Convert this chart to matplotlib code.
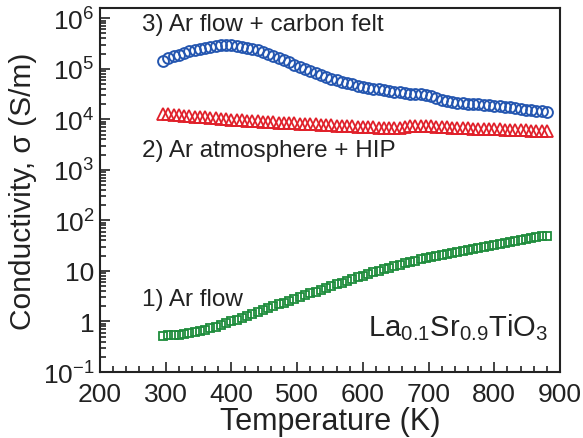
import matplotlib
matplotlib.use("Agg")
import matplotlib.pyplot as plt
from matplotlib.ticker import FixedLocator, LogLocator, NullFormatter, FixedFormatter

plt.rcParams['font.family'] = ['Liberation Sans', 'DejaVu Sans']
plt.rcParams['mathtext.fontset'] = 'custom'
plt.rcParams['mathtext.rm'] = 'Liberation Sans'

# Measurement temperatures (K), one every 8 K
temperature = list(range(296, 881, 8))

# 3) Ar flow + carbon felt (S/m)
sigma_carbon_felt = [1.45e5, 1.6e5, 1.75e5, 1.9e5, 2.05e5, 2.2e5, 2.35e5, 2.5e5, 2.62e5, 2.75e5,
                     2.85e5, 2.9e5, 2.92e5, 2.9e5, 2.85e5, 2.75e5, 2.62e5, 2.48e5, 2.32e5, 2.15e5,
                     1.98e5, 1.8e5, 1.63e5, 1.48e5, 1.33e5, 1.2e5, 1.08e5, 9.8e4, 8.9e4, 8.1e4,
                     7.4e4, 6.8e4, 6.3e4, 5.9e4, 5.5e4, 5.2e4, 4.9e4, 4.65e4, 4.45e4, 4.25e4,
                     4.05e4, 3.9e4, 3.75e4, 3.6e4, 3.5e4, 3.4e4, 3.3e4, 3.2e4, 3.15e4, 3.1e4,
                     3.0e4, 2.85e4, 2.65e4, 2.45e4, 2.3e4, 2.2e4, 2.12e4, 2.08e4, 2.04e4, 2.0e4,
                     1.97e4, 1.94e4, 1.9e4, 1.87e4, 1.83e4, 1.78e4, 1.72e4, 1.66e4, 1.6e4, 1.55e4,
                     1.5e4, 1.46e4, 1.43e4, 1.42e4]

# 2) Ar atmosphere + HIP (S/m)
sigma_hip = [1.3e4, 1.27e4, 1.24e4, 1.21e4, 1.18e4, 1.15e4, 1.13e4, 1.11e4, 1.09e4, 1.07e4,
             1.05e4, 1.03e4, 1.01e4, 9.9e3, 9.7e3, 9.6e3, 9.4e3, 9.3e3, 9.1e3, 9.0e3,
             8.8e3, 8.7e3, 8.6e3, 8.5e3, 8.4e3, 8.3e3, 8.2e3, 8.1e3, 8.0e3, 7.9e3,
             7.8e3, 7.7e3, 7.6e3, 7.5e3, 7.4e3, 7.3e3, 7.2e3, 7.1e3, 7.0e3, 6.95e3,
             6.9e3, 6.85e3, 6.8e3, 6.75e3, 6.7e3, 6.8e3, 7.0e3, 7.2e3, 7.3e3, 7.3e3,
             7.25e3, 7.2e3, 7.1e3, 7.0e3, 6.9e3, 6.8e3, 6.7e3, 6.65e3, 6.6e3, 6.55e3,
             6.5e3, 6.45e3, 6.4e3, 6.35e3, 6.3e3, 6.25e3, 6.2e3, 6.15e3, 6.1e3, 6.05e3,
             6.0e3, 5.95e3, 5.9e3, 5.8e3]

# 1) Ar flow (S/m)
sigma_ar_flow = [0.52, 0.53, 0.54, 0.55, 0.57, 0.59, 0.62, 0.65, 0.69, 0.74,
                 0.79, 0.85, 0.92, 1.0, 1.09, 1.19, 1.3, 1.42, 1.55, 1.69,
                 1.84, 2.0, 2.18, 2.37, 2.58, 2.8, 3.05, 3.3, 3.6, 3.9,
                 4.25, 4.6, 5.0, 5.45, 5.9, 6.4, 6.95, 7.5, 8.1, 8.7,
                 9.4, 10.1, 10.8, 11.6, 12.4, 13.2, 14.1, 15.0, 16.0, 17.0,
                 18.0, 19.0, 20.0, 21.0, 22.0, 23.0, 24.0, 25.0, 26.0, 27.0,
                 28.0, 29.5, 31.0, 32.5, 34.0, 35.5, 37.0, 38.5, 40.0, 42.0,
                 44.0, 46.0, 48.0, 50.0]

x_ticks = [200, 300, 400, 500, 600, 700, 800, 900]
y_ticks = [1e-1, 1, 10, 1e2, 1e3, 1e4, 1e5, 1e6]
y_tick_labels = [r'$\mathregular{10^{-1}}$', '1', '10', r'$\mathregular{10^{2}}$',
                 r'$\mathregular{10^{3}}$', r'$\mathregular{10^{4}}$',
                 r'$\mathregular{10^{5}}$', r'$\mathregular{10^{6}}$']

blue = '#2456b0'
red = '#e0202a'
green = '#1e8c3c'
tc = '#222222'

fig = plt.figure(figsize=(5.83, 4.39), dpi=100)
ax = fig.add_axes([0.1715, 0.1503, 0.789, 0.829])

ax.plot(temperature, sigma_carbon_felt, linestyle='none', marker='o', ms=7.8,
        mfc='none', mec=blue, mew=1.4)
ax.plot(temperature, sigma_hip, linestyle='none', marker='^', ms=8.0,
        mfc='none', mec=red, mew=1.3)
ax.plot(temperature, sigma_ar_flow, linestyle='none', marker='s', ms=6.4,
        mfc='none', mec=green, mew=1.3)

ax.set_yscale('log')
ax.set_xlim(200, 900)
ax.set_ylim(0.1, 10**6.2)

ax.xaxis.set_major_locator(FixedLocator(x_ticks))
ax.xaxis.set_minor_locator(FixedLocator(list(range(200, 901, 20))))
ax.yaxis.set_major_locator(FixedLocator(y_ticks))
ax.yaxis.set_major_formatter(FixedFormatter(y_tick_labels))
ax.yaxis.set_minor_locator(LogLocator(base=10, subs=list(range(2, 10)), numticks=20))
ax.yaxis.set_minor_formatter(NullFormatter())

ax.tick_params(which='both', direction='in', top=False, right=False,
               labelsize=19, width=1.2, colors=tc)
ax.tick_params(which='major', length=7)
ax.tick_params(axis='x', which='major', pad=7)
ax.tick_params(axis='y', which='major', pad=4)
ax.tick_params(which='minor', length=4)
for s in ax.spines.values():
    s.set_linewidth(1.5)
    s.set_color(tc)

ax.set_xlabel('Temperature (K)', fontsize=22, labelpad=0, color=tc)
ax.set_ylabel('Conductivity, σ (S/m)', fontsize=21.5, labelpad=4, color=tc)

ax.text(0.092, 0.955, '3) Ar flow + carbon felt', transform=ax.transAxes,
        fontsize=17.5, color=tc, ha='left', va='center')
ax.text(0.092, 0.61, '2) Ar atmosphere + HIP', transform=ax.transAxes,
        fontsize=17.5, color=tc, ha='left', va='center')
ax.text(0.092, 0.20, '1) Ar flow', transform=ax.transAxes,
        fontsize=17.5, color=tc, ha='left', va='center')
ax.text(0.975, 0.10, r'$\mathregular{La_{0.1}Sr_{0.9}TiO_3}$', transform=ax.transAxes,
        fontsize=21, color=tc, ha='right', va='baseline')

fig.savefig('out.png', dpi=100)
